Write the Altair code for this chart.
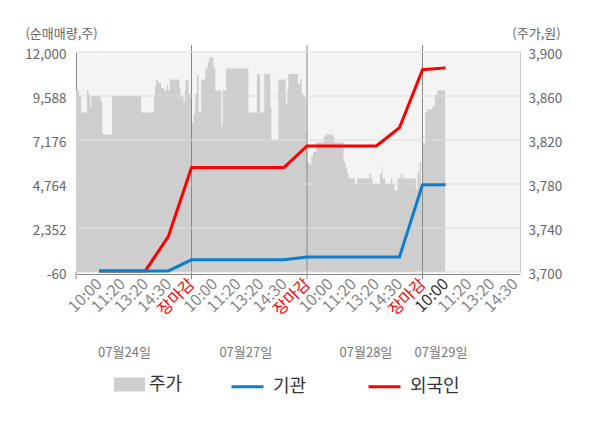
import altair as alt
import pandas as pd

# ---- data ----
price_slot = [0.00, 0.13, 0.22, 0.48, 0.53, 0.57, 0.61, 0.66, 1.07, 1.14,
              1.56, 2.82, 3.38, 3.42, 3.46, 3.55, 3.68, 3.82, 3.93, 3.99,
              4.06, 4.47, 4.52, 4.65, 4.71, 4.74, 4.87,
              5.00, 5.09, 5.16, 5.23, 5.31, 5.42, 5.60, 5.70, 5.78, 5.95,
              6.03, 6.29, 6.35, 6.50, 7.46, 7.83, 7.97, 8.15, 8.41, 8.46,
              8.76, 9.08, 9.15, 9.19, 9.61, 9.70, 9.77, 9.84, 9.94,
              10.00, 10.09, 10.19, 10.26, 10.40, 10.72, 10.80, 11.12, 11.19, 11.58,
              11.67, 11.74, 11.80, 12.08, 12.17, 12.70, 12.77, 12.84, 13.16, 13.24,
              13.27, 13.38, 13.62, 13.69, 13.79, 13.92, 14.06, 14.14, 14.71, 14.78,
              14.86, 14.93,
              15.00, 15.12, 15.20, 15.43, 15.53, 15.63, 15.98]
price_val = [3865, 3860, 3845, 3865, 3862, 3860, 3850, 3860, 3855, 3825,
             3860, 3845, 3860, 3868, 3875, 3872, 3867, 3865, 3870, 3865,
             3875, 3868, 3860, 3855, 3865, 3875, 3862,
             3836, 3844, 3862, 3879, 3846, 3875, 3885, 3891, 3895, 3886,
             3865, 3832, 3865, 3885, 3845, 3880, 3845, 3880, 3850, 3820,
             3875, 3853, 3866, 3880, 3871, 3875, 3862, 3860, 3829,
             3800, 3798, 3805, 3809, 3818, 3823, 3825, 3823, 3818, 3800,
             3795, 3789, 3785, 3780, 3785, 3789, 3785, 3780, 3789, 3795,
             3785, 3780, 3785, 3780, 3774, 3785, 3789, 3785, 3775, 3790,
             3800, 3780,
             3817, 3845, 3848, 3851, 3861, 3865, 3865]

flow_slot = [1, 2, 3, 4, 5, 6, 7, 8, 9, 10, 11, 12, 13, 14, 15, 16]
inst_val = [0, 0, 0, 0, 610, 610, 610, 610, 610, 760, 760, 760, 760, 760, 4720, 4720]
foreign_val = [0, 0, 0, 1900, 5670, 5670, 5670, 5670, 5670, 6850, 6850, 6850, 6850, 7850, 11030, 11130]

left_ticks = [-60, 2352, 4764, 7176, 9588, 12000]
right_ticks = [3700, 3740, 3780, 3820, 3860, 3900]
x_tick_slots = list(range(1, 20))
x_tick_names = ["장마감", "10:00", "11:20", "13:20", "14:30"]
day_bounds = [5, 10, 15]
date_labels = ["07월24일", "07월27일", "07월28일", "07월29일"]
date_slots = [2.1, 7.35, 12.55, 15.8]

price_df = pd.DataFrame({"slot": price_slot, "price": price_val, "series": "주가"})
inst_df = pd.DataFrame({"slot": flow_slot, "v": inst_val, "series": "기관"})
for_df = pd.DataFrame({"slot": flow_slot, "v": foreign_val, "series": "외국인"})
grid_df = pd.DataFrame({"v": left_ticks})
div_df = pd.DataFrame({"slot": day_bounds})
zero_df = pd.DataFrame({"slot": [0]})
date_df = pd.DataFrame({"slot": date_slots, "label": date_labels})

W, H = 444, 220
FONT = "Noto Sans CJK KR"

label_expr = "[" + ",".join("'%s'" % n for n in x_tick_names) + "][datum.value % 5]"
x_axis = alt.Axis(
    values=x_tick_slots, labelExpr=label_expr, labelAngle=315, labelAlign="right",
    labelBaseline="middle", labelFontSize=16, labelPadding=7, labelOverlap=False,
    labelFlush=False, ticks=False, grid=False, title=None, domainColor="#888888",
    offset=2,
    labelColor={"condition": [{"test": "datum.value % 5 == 0", "value": "#ff0000"},
                              {"test": "datum.value == 16", "value": "#333333"}],
                "value": "#888888"},
)
x_enc = alt.X("slot:Q", scale=alt.Scale(domain=[0, 19.22], nice=False, zero=False), axis=x_axis)

num_expr = "datum.value < 0 ? '-' + format(-datum.value, ',d') : format(datum.value, ',d')"
right_axis = alt.Axis(
    orient="right", values=right_ticks, labelExpr=num_expr, labelFontSize=13.5,
    labelColor="#666666", ticks=False, labelPadding=8, grid=False, domainColor="#cccccc",
    labelOffset=2,
    title="(주가,원)", titleAngle=0, titleX=16, titleY=-19, titleAlign="center",
    titleBaseline="middle", titleFontSize=13, titleFontWeight="normal", titleColor="#666666",
)
left_axis = alt.Axis(
    orient="left", values=left_ticks, labelExpr=num_expr, labelFontSize=13.5,
    labelColor="#666666", ticks=False, labelPadding=10, grid=False, domainColor="#888888",
    labelOffset=2,
    title="(순매매량,주)", titleAngle=0, titleX=-15, titleY=-19, titleAlign="center",
    titleBaseline="middle", titleFontSize=13, titleFontWeight="normal", titleColor="#666666",
)

area = alt.Chart(price_df).mark_area(interpolate="step-after", opacity=1).encode(
    x=x_enc,
    y=alt.Y("price:Q", scale=alt.Scale(domain=[3700, 3900], nice=False, zero=False), axis=right_axis),
    y2=alt.datum(3700),
    fill=alt.Fill("series:N", scale=alt.Scale(domain=["주가"], range=["#cecece"]),
                  legend=alt.Legend(orient="none", legendX=38, legendY=317, title=None, padding=0,
                                    symbolType="M-1,-0.45H1V0.45H-1Z", symbolSize=961,
                                    symbolStrokeWidth=0, labelFontSize=18, labelColor="#333333",
                                    labelOffset=4)),
)

dividers = alt.Chart(div_df).mark_rule(color="#888888", strokeWidth=1).encode(
    x=x_enc, y=alt.value(-7), y2=alt.value(H + 7)
)
zero_tick = alt.Chart(zero_df).mark_rule(color="#888888", strokeWidth=1).encode(
    x=x_enc, y=alt.value(H), y2=alt.value(H + 7)
)

left_scale = alt.Scale(domain=[-60, 12000], nice=False, zero=False)
grid = alt.Chart(grid_df).mark_rule(color="#dcdcdc", strokeWidth=1).encode(
    y=alt.Y("v:Q", scale=left_scale, axis=left_axis)
)
stroke_enc = alt.Stroke("series:N",
                        scale=alt.Scale(domain=["기관", "외국인"], range=["#0a7ecf", "#ff0000"]),
                        legend=alt.Legend(orient="none", legendX=154, legendY=317, title=None,
                                          padding=0, direction="horizontal", symbolType="stroke",
                                          symbolSize=1024, symbolStrokeWidth=3, labelFontSize=18,
                                          labelColor="#333333", labelOffset=8, columnPadding=55))
red = alt.Chart(for_df).mark_line(strokeWidth=3).encode(
    x=x_enc, y=alt.Y("v:Q", scale=left_scale, axis=left_axis), stroke=stroke_enc
)
blue = alt.Chart(inst_df).mark_line(strokeWidth=3).encode(
    x=x_enc, y=alt.Y("v:Q", scale=left_scale, axis=left_axis), stroke=stroke_enc
)
inner = alt.layer(grid, red, blue)

dates = alt.Chart(date_df).mark_text(fontSize=13, color="#777777", baseline="middle").encode(
    x=x_enc, y=alt.value(301), text="label:N"
)

chart = alt.layer(area, dividers, zero_tick, inner, dates).resolve_scale(
    y="independent"
).properties(
    width=W, height=H,
    padding={"left": 68, "top": 44, "right": 72, "bottom": 148},
    autosize=alt.AutoSizeParams(type="none"),
).configure(font=FONT).configure_view(fill="#f4f4f4", strokeWidth=0)

chart.save("out.html", embed_options={"renderer": "svg", "actions": False})
